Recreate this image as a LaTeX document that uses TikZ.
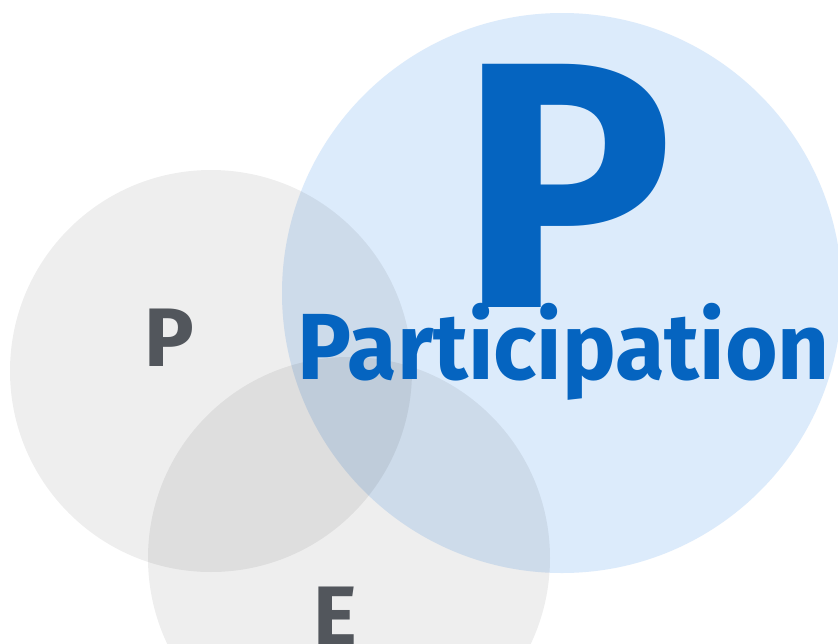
\documentclass[tikz,border=0pt]{standalone}
\usepackage{fontspec}
\setmainfont{Fira Sans}
\definecolor{bluefill}{HTML}{DCEBFB}
\definecolor{bluetext}{HTML}{0564C0}
\definecolor{graytext}{HTML}{52565C}
\tikzset{
  graycircle/.style={fill=black, fill opacity=0.066, draw=none},
  bluecircle/.style={fill=bluefill, draw=none},
  label/.style={inner sep=0pt, anchor=base, font=\bfseries},
}
\begin{document}
\begin{tikzpicture}[x=1pt,y=-1pt]
\useasboundingbox (0,0) rectangle (838,643);
\clip (0,0) rectangle (838,643);
\fill[white] (0,0) rectangle (838,643);
\path[bluecircle] (562,293) circle[radius=280];
\path[graycircle] (211,371) circle[radius=201];
\path[graycircle] (349,558) circle[radius=201];
\node[label, text=bluetext, font=\bfseries\fontsize{351}{351}\selectfont] (bigP) at (566.5,307) {\resizebox{214pt}{\height}{P}};
\node[label, text=bluetext, font=\bfseries\fontsize{94}{94}\selectfont] (part) at (564,379) {\resizebox{532pt}{\height}{Participation}};
\node[label, text=graytext, font=\bfseries\fontsize{83}{83}\selectfont] (smallP) at (169,366) {P};
\node[label, text=graytext, font=\bfseries\fontsize{83}{83}\selectfont] (E) at (335,644) {E};
\end{tikzpicture}
\end{document}
